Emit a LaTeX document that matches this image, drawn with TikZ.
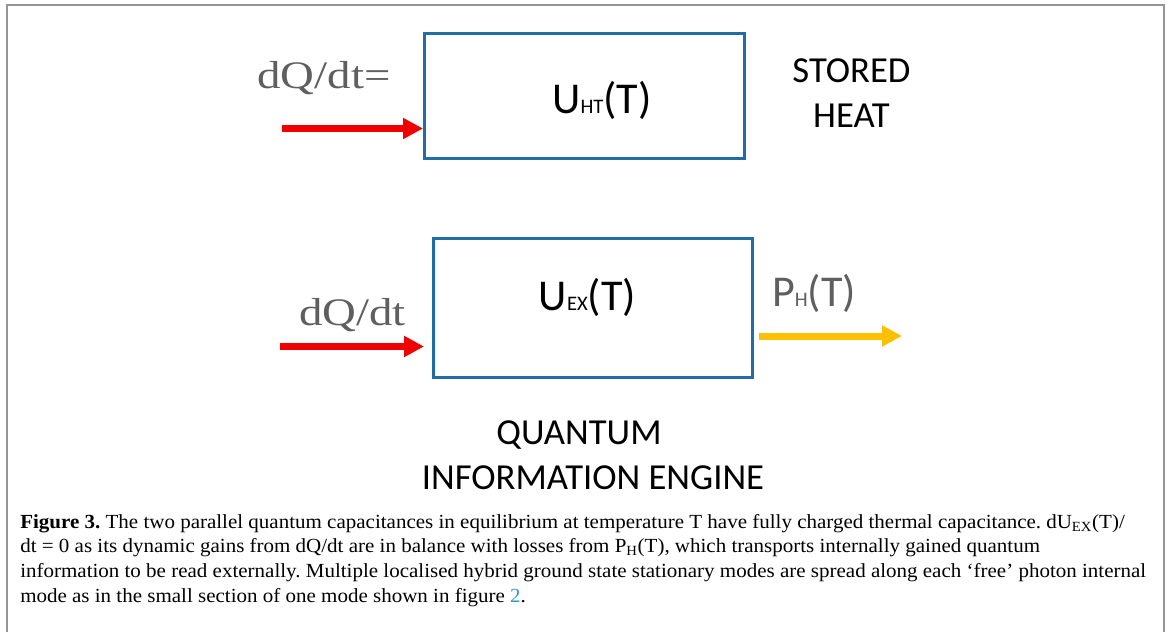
\documentclass[tikz,border=0pt]{standalone}
\usepackage{fontspec}
\setmainfont{Liberation Serif}
\newfontfamily\labelfont{Carlito}
\newfontfamily\quantityfont[FakeStretch=1.2]{Liberation Serif}
\newfontfamily\legendfont[FakeStretch=1.05]{Liberation Serif}
\usetikzlibrary{arrows.meta}
\definecolor{boxblue}{RGB}{31,110,168}
\definecolor{heatred}{RGB}{240,0,0}
\definecolor{powergold}{RGB}{255,192,0}
\definecolor{labelgray}{RGB}{95,95,95}
\definecolor{framegray}{RGB}{150,150,150}
\definecolor{linkblue}{RGB}{51,153,204}
\newcommand{\subsz}[1]{{\fontsize{15.5}{18}\selectfont #1}}
\frenchspacing
\begin{document}
\begin{tikzpicture}[x=0.75pt,y=-0.75pt,
  capbox/.style={draw=boxblue, line width=2.25pt, inner sep=0pt, fill=none},
  energy/.style={font=\labelfont\fontsize{33}{40}\selectfont, inner sep=0pt, anchor=base},
  caption/.style={font=\labelfont\fontsize{27.5}{33}\selectfont, inner sep=0pt, anchor=base},
  rate/.style={font=\quantityfont\fontsize{29.25}{35}\selectfont, text=labelgray, inner sep=0pt, anchor=base},
  flow/.style={line width=5.25pt, -{Triangle[length=15pt,width=15pt]}},
  heatflow/.style={flow, draw=heatred, color=heatred},
  powerflow/.style={flow, draw=powergold, color=powergold}]

\useasboundingbox (0,0) rectangle (1170,632);
\fill[white] (0,0) rectangle (1170,632);

% page frame (open at the bottom)
\draw[framegray, line width=1.5pt] (7,632) -- (7,5) -- (1164,5) -- (1164,632);

% stored heat capacitance
\node[capbox, minimum width=240pt, minimum height=93.4pt] (ht) at (584.5,96.25) {};
\node[energy] (htlabel) at (602,113) {U\subsz{HT}(T)};
\node[caption] (stored) at (851.5,82) {STORED};
\node[caption] (heat) at (851.5,127) {HEAT};
\node[rate] (dq1) at (324,88) {dQ/dt=};
\coordinate (q1start) at (282,128.5);
\draw[heatflow] (q1start) -- (q1start -| ht.west);

% quantum information engine
\node[capbox, minimum width=239.6pt, minimum height=104.6pt] (ex) at (593.25,308.25) {};
\node[energy] (exlabel) at (587.5,310) {U\subsz{EX}(T)};
\node[rate] (dq2) at (352.5,325) {dQ/dt};
\coordinate (q2start) at (280,346.5);
\coordinate (q2tip) at (424,346.5);
\draw[heatflow] (q2start) -- (q2tip);

\node[energy, text=labelgray] (ph) at (814,306) {P\subsz{H}(T)};
\coordinate (phstart) at (759,336);
\coordinate (phtip) at (902,336);
\draw[powerflow] (phstart) -- (phtip);

\node[caption] (quantum) at (579,444) {QUANTUM};
\node[caption] (engine) at (593,489) {INFORMATION ENGINE};

% figure caption (base anchor sits on the last line)
\node[anchor=base west, align=left, inner sep=0pt,
      font=\legendfont\fontsize{15}{18.4}\selectfont] (figcap) at (20,602)
{\textbf{Figure 3.} The two parallel quantum capacitances in equilibrium at temperature T have fully charged thermal capacitance. dU\textsubscript{EX}(T)/\\
dt = 0 as its dynamic gains from dQ/dt are in balance with losses from P\textsubscript{H}(T), which transports internally gained quantum\\
information to be read externally. Multiple localised hybrid ground state stationary modes are spread along each ‘free’ photon internal\\
mode as in the small section of one mode shown in figure \textcolor{linkblue}{2}.};
\end{tikzpicture}
\end{document}
